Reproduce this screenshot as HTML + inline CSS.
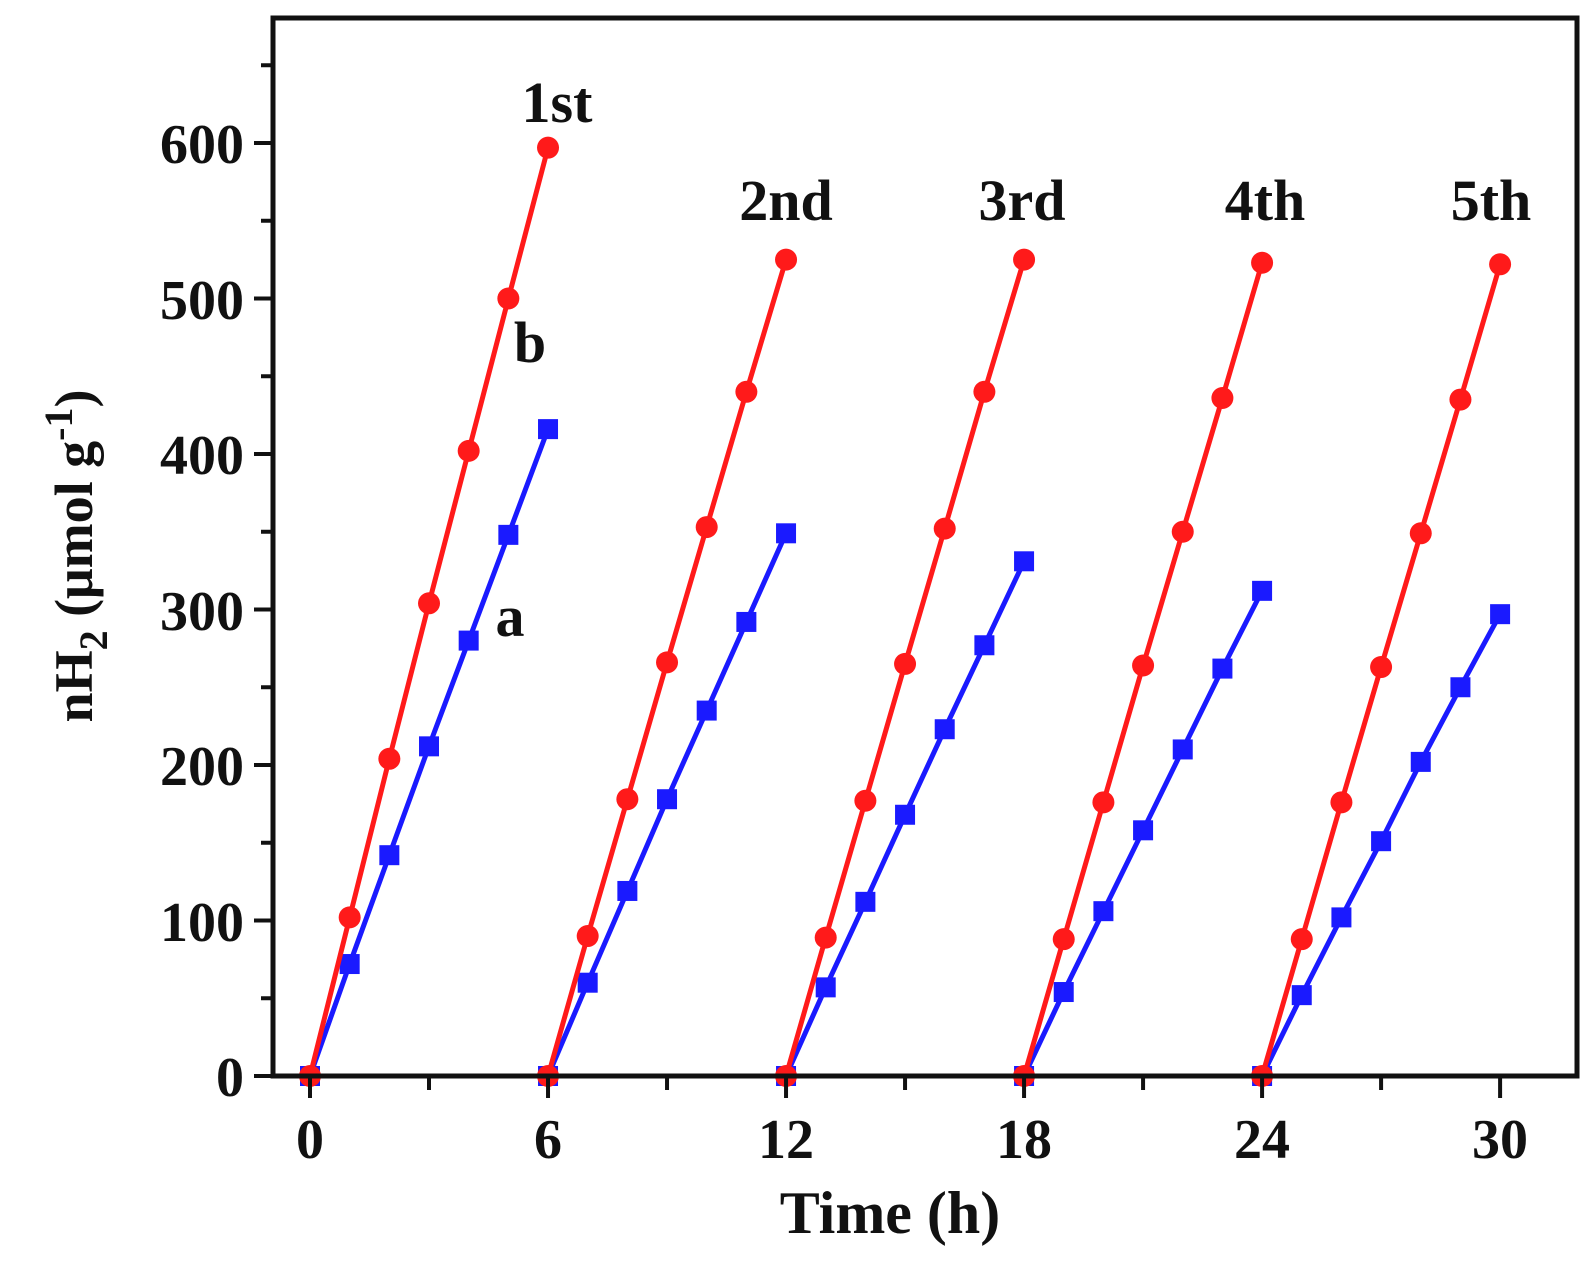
<!DOCTYPE html>
<html><head><meta charset="utf-8"><style>
html,body{margin:0;padding:0;background:#fff;}
svg{display:block;}
text{font-family:"Liberation Serif",serif;font-weight:bold;fill:#111;}
</style></head><body>
<svg id="s" width="1596" height="1272" viewBox="0 0 1596 1272" xmlns="http://www.w3.org/2000/svg">
<g id="plot"></g>
<rect x="273" y="18" width="1304" height="1058" fill="none" stroke="#111" stroke-width="5"/>
<g id="ticks" stroke="#111" stroke-width="4"></g>
<g font-size="56" text-anchor="middle">
<text x="310" y="1158">0</text>
<text x="548" y="1158">6</text>
<text x="786" y="1158">12</text>
<text x="1024" y="1158">18</text>
<text x="1262" y="1158">24</text>
<text x="1500" y="1158">30</text>
</g>
<g font-size="56" text-anchor="end">
<text x="244" y="1096">0</text>
<text x="244" y="941">100</text>
<text x="244" y="785">200</text>
<text x="244" y="630">300</text>
<text x="244" y="474">400</text>
<text x="244" y="319">500</text>
<text x="244" y="163">600</text>
</g>
<text x="890" y="1233" font-size="60" text-anchor="middle">Time (h)</text>
<text transform="translate(92,556) rotate(-90)" font-size="54" text-anchor="middle">nH<tspan font-size="40" dy="15">2</tspan><tspan dy="-15"> (μmol g</tspan><tspan font-size="40" dy="-20">-1</tspan><tspan dy="20">)</tspan></text>
<g font-size="58" text-anchor="middle">
<text x="557" y="122">1st</text>
<text x="786" y="220">2nd</text>
<text x="1022" y="220">3rd</text>
<text x="1265" y="220">4th</text>
<text x="1491" y="220">5th</text>
<text x="530" y="362">b</text>
<text x="510" y="636">a</text>
</g>
</svg>
<script>
var X=function(h){return 310+h*39.67;},Y=function(v){return 1076-v*1.555;};
var red=[[0,102,204,304,402,500,597],[0,90,178,266,353,440,525],[0,89,177,265,352,440,525],[0,88,176,264,350,436,523],[0,88,176,263,349,435,522]];
var blue=[[0,72,142,212,280,348,416],[0,60,119,178,235,292,349],[0,57,112,168,223,277,331],[0,54,106,158,210,262,312],[0,52,102,151,202,250,297]];
var h='';
for(var c=0;c<5;c++){
 var pb='',pr='';
 for(var i=0;i<7;i++){pb+=(i?'L':'M')+X(c*6+i).toFixed(1)+' '+Y(blue[c][i]).toFixed(1);pr+=(i?'L':'M')+X(c*6+i).toFixed(1)+' '+Y(red[c][i]).toFixed(1);}
 h+='<path d="'+pb+'" fill="none" stroke="#1a1aff" stroke-width="5"/>';
 for(var i=0;i<7;i++)h+='<rect x="'+(X(c*6+i)-10)+'" y="'+(Y(blue[c][i])-10)+'" width="20" height="20" fill="#1a1aff"/>';
 h+='<path d="'+pr+'" fill="none" stroke="#ff1a1a" stroke-width="5"/>';
 for(var i=0;i<7;i++)h+='<circle cx="'+X(c*6+i)+'" cy="'+Y(red[c][i])+'" r="11" fill="#ff1a1a"/>';
}
document.getElementById('plot').innerHTML=h;
var t='';
for(var k=0;k<=10;k++){var x=X(k*3);t+='<line x1="'+x+'" y1="1076" x2="'+x+'" y2="'+(k%2?1090:1098)+'"/>';}
for(var k=0;k<=13;k++){var y=Y(k*50);t+='<line x1="273" y1="'+y+'" x2="'+(k%2?261:254)+'" y2="'+y+'"/>';}
document.getElementById('ticks').innerHTML=t;
</script>
</body></html>
